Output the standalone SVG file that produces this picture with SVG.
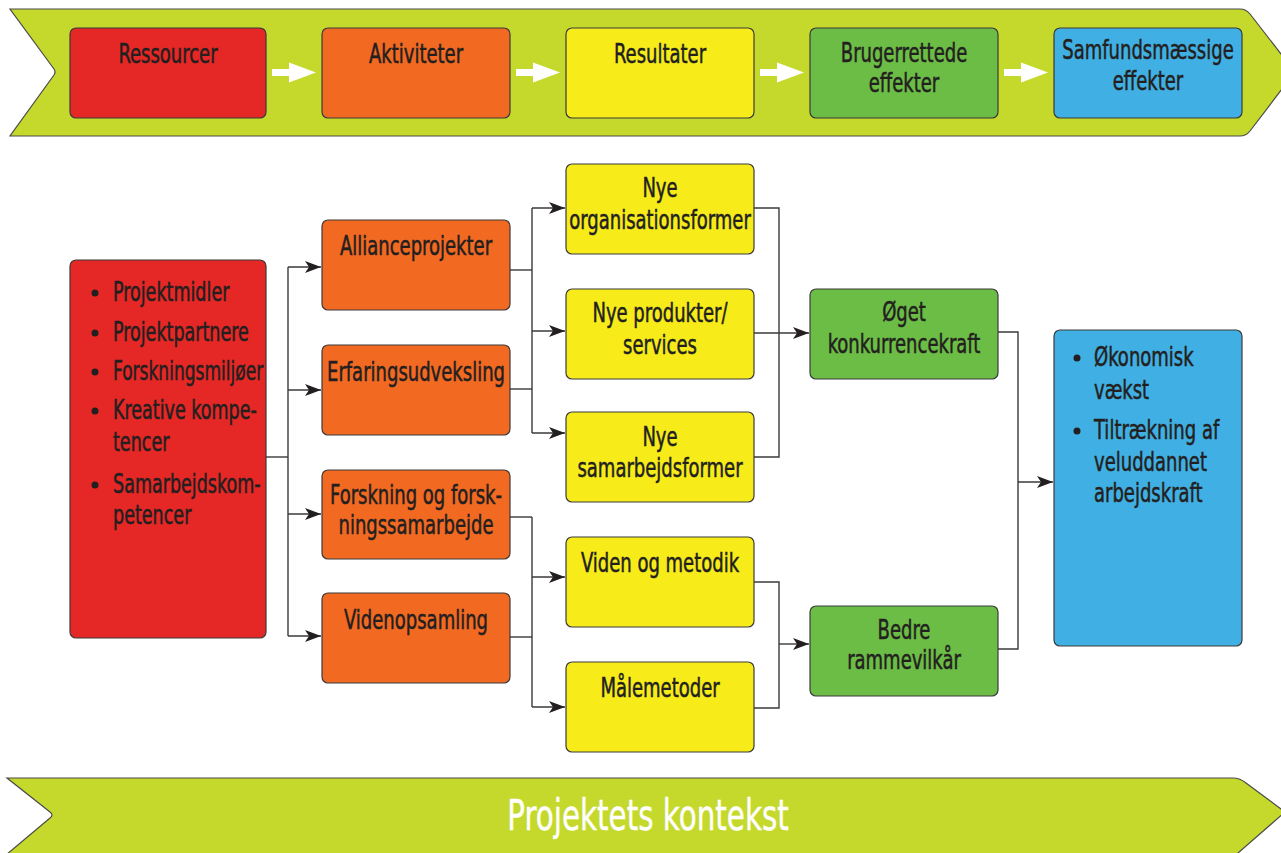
<svg xmlns="http://www.w3.org/2000/svg" width="1281" height="853" viewBox="0 0 1281 853">
<style>
.box{stroke:#3a3a3a;stroke-width:1.2}
.red{fill:#e52825}
.org{fill:#f26922}
.yel{fill:#f7ec1a}
.grn{fill:#6cbd45}
.blu{fill:#40b0e4}
.ban{fill:#c5d92d;stroke:#4a4a4a;stroke-width:1.2}
text{font-family:"DejaVu Sans Condensed","DejaVu Sans","Liberation Sans",sans-serif;font-size:26px;fill:#231f20;stroke:#231f20;stroke-width:0.5}
.c{text-anchor:middle}
.con{fill:none;stroke:#3a3a3a;stroke-width:1.4;marker-end:url(#ah)}
.ln{fill:none;stroke:#3a3a3a;stroke-width:1.4}
.wa{fill:#ffffff}
.dot{fill:#231f20}
.big{font-size:43px;fill:#ffffff;stroke:#ffffff;stroke-width:0.4}
</style>
<defs>
<marker id="ah" markerUnits="userSpaceOnUse" markerWidth="18" markerHeight="12" refX="16" refY="6" orient="auto">
<path d="M0,0 L16,6 L0,12 L4,6 Z" fill="#231f20"/>
</marker>
</defs>
<rect width="1281" height="853" fill="#ffffff"/>

<g id="top-banner">
<path class="ban" d="M10,9 L1240,9 Q1246,9 1250,14 L1295,72 L1250,131 Q1246,136 1240,136 L10,136 L54,75 Q56,72 54,69 Z"/>
<path class="wa" d="M272,69 L289,69 L289,62.5 L316,72.5 L289,82.5 L289,76 L272,76 Z"/>
<path class="wa" d="M516,69 L533,69 L533,62.5 L560,72.5 L533,82.5 L533,76 L516,76 Z"/>
<path class="wa" d="M760,69 L777,69 L777,62.5 L804,72.5 L777,82.5 L777,76 L760,76 Z"/>
<path class="wa" d="M1004,69 L1021,69 L1021,62.5 L1048,72.5 L1021,82.5 L1021,76 L1004,76 Z"/>
</g>
<g id="top-ressourcer"><rect class="box red" x="70" y="28" width="196" height="90" rx="6"/><text class="c" transform="translate(168,63) scale(0.77,1)">Ressourcer</text></g>
<g id="top-aktiviteter"><rect class="box org" x="322" y="28" width="188" height="90" rx="6"/><text class="c" transform="translate(416,63) scale(0.77,1)">Aktiviteter</text></g>
<g id="top-resultater"><rect class="box yel" x="566" y="28" width="188" height="90" rx="6"/><text class="c" transform="translate(660,63) scale(0.77,1)">Resultater</text></g>
<g id="top-brugerrettede"><rect class="box grn" x="810" y="28" width="188" height="90" rx="6"/><text class="c" transform="translate(904,62) scale(0.77,1)">Brugerrettede</text><text class="c" transform="translate(904,92) scale(0.77,1)">effekter</text></g>
<g id="top-samfund"><rect class="box blu" x="1054" y="28" width="188" height="90" rx="6"/><text class="c" transform="translate(1148,59) scale(0.77,1)">Samfundsmæssige</text><text class="c" transform="translate(1148,90) scale(0.77,1)">effekter</text></g>

<g id="connectors">
<polyline class="ln" points="266,457 288,457"/>
<polyline class="ln" points="288,267 288,636"/>
<polyline class="con" points="288,267 321,267"/>
<polyline class="con" points="288,390 321,390"/>
<polyline class="con" points="288,514 321,514"/>
<polyline class="con" points="288,636 321,636"/>

<polyline class="ln" points="510,270 532,270"/>
<polyline class="ln" points="510,389 532,389"/>
<polyline class="ln" points="532,208 532,433"/>
<polyline class="con" points="532,208 565,208"/>
<polyline class="con" points="532,331 565,331"/>
<polyline class="con" points="532,433 565,433"/>

<polyline class="ln" points="510,517 532,517"/>
<polyline class="ln" points="510,637 532,637"/>
<polyline class="ln" points="532,517 532,707"/>
<polyline class="con" points="532,577 565,577"/>
<polyline class="con" points="532,707 565,707"/>

<polyline class="ln" points="754,208 779,208 779,457 754,457"/>
<polyline class="con" points="754,333 809,333"/>

<polyline class="ln" points="754,582 779,582 779,708 754,708"/>
<polyline class="con" points="779,644 809,644"/>

<polyline class="ln" points="998,332 1018,332 1018,649 998,649"/>
<polyline class="con" points="1018,482 1053,482"/>
</g>

<g id="ressourcer">
<rect class="box red" x="70" y="260" width="196" height="378" rx="6"/>
<circle class="dot" cx="95" cy="293" r="3.5"/><text transform="translate(113,301) scale(0.75,1)">Projektmidler</text>
<circle class="dot" cx="95" cy="333" r="3.5"/><text transform="translate(113,341) scale(0.75,1)">Projektpartnere</text>
<circle class="dot" cx="95" cy="372" r="3.5"/><text transform="translate(113,380) scale(0.73,1)">Forskningsmiljøer</text>
<circle class="dot" cx="95" cy="411" r="3.5"/><text transform="translate(113,419) scale(0.75,1)">Kreative kompe-</text>
<text transform="translate(113,451) scale(0.75,1)">tencer</text>
<circle class="dot" cx="95" cy="485" r="3.5"/><text transform="translate(113,493) scale(0.75,1)">Samarbejdskom-</text>
<text transform="translate(113,524) scale(0.75,1)">petencer</text>
</g>

<g id="allianceprojekter"><rect class="box org" x="322" y="220" width="188" height="90" rx="6"/><text class="c" transform="translate(416,255) scale(0.77,1)">Allianceprojekter</text></g>
<g id="erfaringsudveksling"><rect class="box org" x="322" y="345" width="188" height="90" rx="6"/><text class="c" transform="translate(416,381) scale(0.77,1)">Erfaringsudveksling</text></g>
<g id="forskning"><rect class="box org" x="322" y="470" width="188" height="89" rx="6"/><text class="c" transform="translate(416,504) scale(0.77,1)">Forskning og forsk-</text><text class="c" transform="translate(416,534) scale(0.77,1)">ningssamarbejde</text></g>
<g id="videnopsamling"><rect class="box org" x="322" y="593" width="188" height="90" rx="6"/><text class="c" transform="translate(416,629) scale(0.77,1)">Videnopsamling</text></g>

<g id="nye-organisationsformer"><rect class="box yel" x="566" y="164" width="188" height="90" rx="6"/><text class="c" transform="translate(660,197) scale(0.77,1)">Nye</text><text class="c" transform="translate(660,229) scale(0.77,1)">organisationsformer</text></g>
<g id="nye-produkter"><rect class="box yel" x="566" y="289" width="188" height="90" rx="6"/><text class="c" transform="translate(660,322) scale(0.77,1)">Nye produkter/</text><text class="c" transform="translate(660,354) scale(0.77,1)">services</text></g>
<g id="nye-samarbejdsformer"><rect class="box yel" x="566" y="412" width="188" height="90" rx="6"/><text class="c" transform="translate(660,446) scale(0.77,1)">Nye</text><text class="c" transform="translate(660,477) scale(0.77,1)">samarbejdsformer</text></g>
<g id="viden-og-metodik"><rect class="box yel" x="566" y="537" width="188" height="90" rx="6"/><text class="c" transform="translate(660,572) scale(0.77,1)">Viden og metodik</text></g>
<g id="maalemetoder"><rect class="box yel" x="566" y="662" width="188" height="90" rx="6"/><text class="c" transform="translate(660,697) scale(0.77,1)">Målemetoder</text></g>

<g id="oeget-konkurrencekraft"><rect class="box grn" x="810" y="289" width="188" height="90" rx="6"/><text class="c" transform="translate(904,321) scale(0.77,1)">Øget</text><text class="c" transform="translate(904,353) scale(0.77,1)">konkurrencekraft</text></g>
<g id="bedre-rammevilkaar"><rect class="box grn" x="810" y="606" width="188" height="90" rx="6"/><text class="c" transform="translate(904,639) scale(0.77,1)">Bedre</text><text class="c" transform="translate(904,669) scale(0.77,1)">rammevilkår</text></g>

<g id="samfund">
<rect class="box blu" x="1054" y="330" width="188" height="316" rx="6"/>
<circle class="dot" cx="1077" cy="358" r="3.5"/><text transform="translate(1094,366) scale(0.77,1)">Økonomisk</text>
<text transform="translate(1094,399) scale(0.77,1)">vækst</text>
<circle class="dot" cx="1077" cy="431" r="3.5"/><text transform="translate(1094,439) scale(0.77,1)">Tiltrækning af</text>
<text transform="translate(1094,471) scale(0.77,1)">veluddannet</text>
<text transform="translate(1094,502) scale(0.77,1)">arbejdskraft</text>
</g>

<g id="kontekst">
<path class="ban" d="M7,778 L1233,778 Q1240,778 1246,783 L1285,812 L1230,860 L0,860 L50,818 Q54,815 50,812 Z"/>
<text class="c big" transform="translate(648,830) scale(0.76,1)">Projektets kontekst</text>
</g>
</svg>
